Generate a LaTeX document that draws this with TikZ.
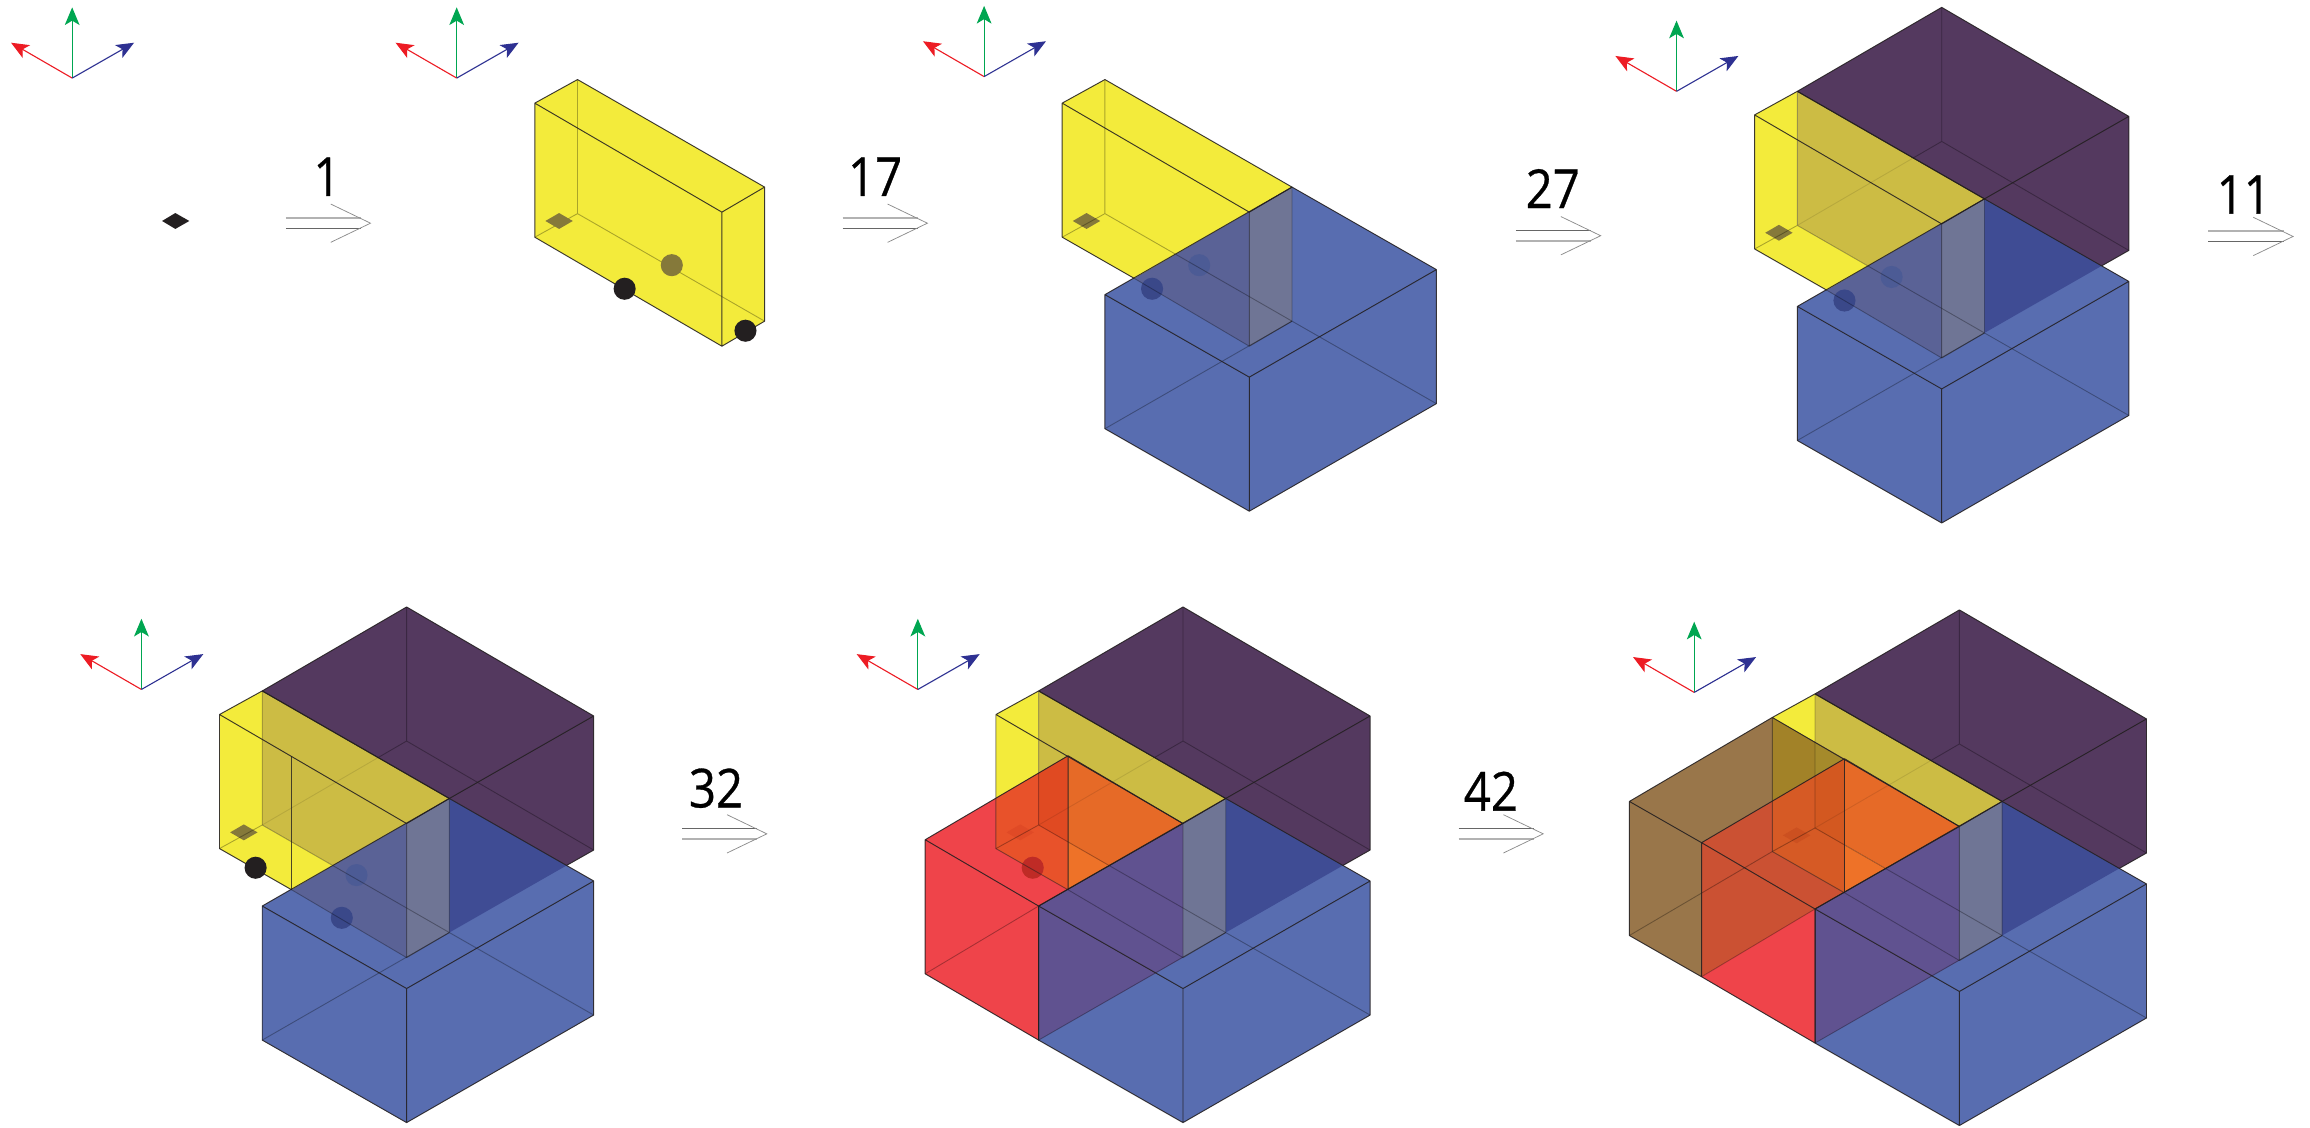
\documentclass[tikz,border=0pt]{standalone}
\usepackage{fontspec}
\usetikzlibrary{arrows.meta}
\newfontfamily\numfont{Open Sans}[FakeStretch=0.88,FakeBold=0.6]
\definecolor{cyel}{HTML}{F3EB3B}
\definecolor{cblu}{HTML}{586DB0}
\definecolor{cpur}{HTML}{54395F}
\definecolor{cdkb}{HTML}{3F4C94}
\definecolor{coli}{HTML}{CCBC44}
\definecolor{cgb}{HTML}{5A6296}
\definecolor{cstr}{HTML}{6F7595}
\definecolor{cred}{HTML}{EF444A}
\definecolor{cvio}{HTML}{605290}
\definecolor{cbrn}{HTML}{99764A}
\definecolor{cink}{HTML}{231F20}
\definecolor{axg}{HTML}{00A651}
\definecolor{axr}{HTML}{ED1C24}
\definecolor{axb}{HTML}{2E3192}
\definecolor{oRa}{HTML}{E8522A}
\definecolor{oRb}{HTML}{EE7228}
\definecolor{oRc}{HTML}{E04A22}
\definecolor{oRd}{HTML}{E66A27}
\definecolor{bRa}{HTML}{D65A25}
\definecolor{bRc}{HTML}{D35820}
\definecolor{bRed}{HTML}{CB5133}
\definecolor{bYa}{HTML}{A28228}
\definecolor{bYb}{HTML}{A58A2B}
\definecolor{cdiaO}{HTML}{85793A}
\definecolor{cdotB}{HTML}{4C5B95}
\definecolor{cdotK}{HTML}{3A4889}
\definecolor{cdotR}{HTML}{BF2B26}
\definecolor{cdiaR}{HTML}{E04A26}
\definecolor{cdiaB}{HTML}{CC5020}
\tikzset{
  vis/.style={draw=cink,draw opacity=0.88,line width=0.65pt,line join=round},
  hid/.style={draw=black,draw opacity=0.3,line width=0.6pt},
  faint/.style={draw=black,draw opacity=0.1,line width=0.6pt},
  axis/.style={line width=0.75pt,-{Stealth[length=12pt,width=10pt,inset=3pt]}},
  shaftA/.style={draw=black!30,line width=1.1pt},
  shaftB/.style={draw=black!60,line width=0.6pt},
  head/.style={draw=black!45,line width=0.5pt},
  num/.style={inner sep=0pt,font=\numfont\fontsize{36.5}{36.5}\selectfont},
  dot/.style={circle,minimum size=15pt,inner sep=0pt,draw=none}
}
\newcommand{\grid}{%
  \coordinate (P) at (0,0);
  \coordinate (L) at (-127,73);
  \coordinate (F) at (-29,129);
  \coordinate (R) at (98,56);
  \coordinate (PB) at (0,91);
  \coordinate (LB) at (-127,164);
  \coordinate (FB) at (-29,220);
  \coordinate (RB) at (98,147);
  \coordinate (Yl) at (-156,-57);
  \coordinate (Yb) at (-127,-73);
  \coordinate (C) at (-29,17);
  \coordinate (CB) at (-29,108);
  \coordinate (YlB) at (-156,34);
  \coordinate (YbB) at (-127,18);
  \coordinate (Pt) at (-29,-130);
  \coordinate (Rt) at (98,-56);
  \coordinate (Rb) at (98,35);
  \coordinate (Pb) at (-29,-39);
  \coordinate (Pc) at (-48.3,-27.8);
  \coordinate (Ib) at (79.5,45.5);
  \coordinate (Q) at (-79,45.5);
  \coordinate (B) at (-107,-29);
  \coordinate (BB) at (-107,62);
  \coordinate (E) at (-107,29.5);
  \coordinate (A) at (-204,28);
  \coordinate (AB) at (-204,119);
  \coordinate (Ao) at (-253,0);
  \coordinate (AoB) at (-253,91);
  \coordinate (T1) at (-156,-0.2);
  \coordinate (T2) at (-127,-17.3);
  \coordinate (T3) at (-127,-40);
}
\newcommand{\bluefill}{\fill[cblu] (L)--(P)--(R)--(RB)--(FB)--(LB)--cycle;}
\newcommand{\bluelines}{%
  \draw[hid] (P)--(PB) (PB)--(LB) (PB)--(RB);
  \draw[vis] (L)--(P)--(R)--(F)--cycle (L)--(LB)--(FB)--(RB)--(R) (F)--(FB);
}
\newcommand{\yelstrip}{\fill[cstr] (C)--(P)--(PB)--(CB)--cycle;}
\newcommand{\yellines}{%
  \draw[hid] (Yb)--(YbB) (YbB)--(YlB) (YbB)--(PB) (BB)--(CB);
  \draw[vis] (Yl)--(Yb)--(P)--(C)--cycle (Yl)--(YlB)--(BB);
  \draw[vis,draw opacity=.5] (C)--(CB) (CB)--(PB);
}
\newcommand{\purfill}{%
  \fill[cpur] (Yb)--(Pt)--(Rt)--(Rb)--(Ib)--(P)--cycle;
  \fill[cdkb] (P)--(Ib)--(PB)--cycle;
}
\newcommand{\purlines}{%
  \draw[hid] (Pt)--(Pb) (Pb)--(Rb) (Pb)--(Pc);
  \draw[faint] (Pc)--(YbB);
  \draw[vis] (Yb)--(Pt)--(Rt)--(Rb)--(Ib) (P)--(Rt) (Yb)--(P);
}
\newcommand{\dia}[1]{\fill[#1] (-148.8,23)--(-139.5,17.6)--(-130.2,23)--(-139.5,28.4)--cycle;}
\newcommand{\axes}[2]{%
  \coordinate (ao) at (#1,#2);
  \coordinate (ag) at (#1,#2-48);
  \coordinate (ar) at (#1-41.5,#2-24);
  \coordinate (ab) at (#1+42,#2-24);
  \draw[axis,axg] (ao)--(ag);
  \draw[axis,axr] (ao)--(ar);
  \draw[axis,axb] (ao)--(ab);
}
\newcommand{\flow}[5]{%
  \coordinate (#5a) at (#1,#2-3.7);
  \coordinate (#5b) at (#1+51,#2-3.7);
  \coordinate (#5c) at (#1,#2+3.7);
  \coordinate (#5d) at (#1+51,#2+3.7);
  \coordinate (#5t) at (#1+57.5,#2);
  \coordinate (#5u) at (#1+30.5,#2-13);
  \coordinate (#5l) at (#1+30.5,#2+13);
  \draw[#3] (#5a)--(#5b);
  \draw[#4] (#5c)--(#5d);
  \draw[head] (#5u)--(#5t)--(#5l);
}
\begin{document}
\begin{tikzpicture}[x=1pt,y=-1pt]
\useasboundingbox (0,0) rectangle (1568,765);
\fill[white] (0,0) rectangle (1568,765);

%% ---------- panel 1
\axes{49}{53}
\coordinate (d1a) at (110,150);\coordinate (d1b) at (119,144.6);\coordinate (d1c) at (128.5,150);\coordinate (d1d) at (119,155.4);
\fill[cink] (d1a)--(d1b)--(d1c)--(d1d)--cycle;
\flow{194}{151.5}{shaftA}{shaftB}{fa}
\node[num] (n1) at (222,120) {1};

%% ---------- panel 2
\axes{310}{53}
\begin{scope}[shift={(519,127)}]
\grid
\fill[cyel] (Yl)--(Yb)--(P)--(PB)--(CB)--(YlB)--cycle;
\draw[hid] (Yb)--(YbB) (YbB)--(YlB) (YbB)--(PB);
\draw[vis] (Yl)--(Yb)--(P)--(C)--cycle (Yl)--(YlB)--(CB)--(PB)--(P) (C)--(CB);
\dia{cdiaO}
\node[dot,fill=cdiaO] (p2b) at (-63,53) {};
\node[dot,fill=cink] (p2a) at (-95,69) {};
\node[dot,fill=cink] (p2c) at (-13,97.5) {};
\end{scope}
\flow{572}{151.5}{shaftA}{shaftB}{fb}
\node[num] (n17) at (594,120) {17};

%% ---------- panel 3
\axes{668}{52}
\begin{scope}[shift={(877,127)}]
\grid
\bluefill
\fill[cyel] (Yl)--(Yb)--(P)--(BB)--(YlB)--cycle;
\fill[cgb] (C)--(BB)--(CB)--cycle;
\yelstrip
\dia{cdiaO}
\node[dot,fill=cdotB] (p3b) at (-63,53) {};
\node[dot,fill=cdotK] (p3a) at (-95,69) {};
\yellines
\bluelines
\end{scope}
\flow{1029}{160}{shaftB}{shaftA}{fc}
\node[num] (n27) at (1054,128) {27};

%% ---------- panel 4
\axes{1138}{62}
\begin{scope}[shift={(1347,135)}]
\grid
\bluefill
\purfill
\fill[cyel] (Yl)--(Yb)--(YbB)--(Q)--(BB)--(YlB)--cycle;
\fill[coli] (Yb)--(P)--(Q)--(YbB)--cycle;
\fill[cgb] (C)--(BB)--(CB)--cycle;
\yelstrip
\dia{cdiaO}
\node[dot,fill=cdotB] (p4b) at (-63,53) {};
\node[dot,fill=cdotK] (p4a) at (-95,69) {};
\yellines
\purlines
\bluelines
\end{scope}
\flow{1499}{160.5}{shaftA}{shaftB}{fd}
\node[num] (n11) at (1523,132) {11};

%% ---------- panel 5
\axes{96}{468}
\begin{scope}[shift={(305,542)}]
\grid
\bluefill
\purfill
\fill[cyel] (Yl)--(Yb)--(YbB)--(Q)--(BB)--(YlB)--cycle;
\fill[coli] (Yb)--(P)--(Q)--(YbB)--cycle;
\fill[cgb] (C)--(BB)--(CB)--cycle;
\yelstrip
\dia{cdiaO}
\node[dot,fill=cdotB] (p5b) at (-63,52) {};
\node[dot,fill=cdotK] (p5a) at (-73,81) {};
\node[dot,fill=cink] (p5c) at (-131.5,47) {};
\yellines
\purlines
\draw[vis,draw opacity=.8] (B)--(BB);
\bluelines
\end{scope}
\flow{463}{566}{shaftB}{shaftA}{fe}
\node[num] (n32) at (486,535) {32};

%% ---------- panel 6
\axes{623}{468}
\begin{scope}[shift={(832,542)}]
\grid
\bluefill
\purfill
\fill[cyel] (Yl)--(Yb)--(T2)--(T1)--cycle;
\fill[coli] (Yb)--(P)--(C)--(B)--(T2)--cycle;
\fill[cred] (A)--(B)--(C)--(L)--(LB)--(AB)--cycle;
\fill[oRa] (T1)--(T2)--(YbB)--(E)--(BB)--(YlB)--cycle;
\fill[oRc] (T2)--(B)--(E)--(YbB)--cycle;
\fill[oRd] (B)--(C)--(Q)--(E)--cycle;
\fill[oRb] (E)--(Q)--(BB)--cycle;
\fill[cvio] (L)--(C)--(CB)--(LB)--cycle;
\yelstrip
\dia{cdiaR}
\node[dot,fill=cdotR] (p6a) at (-131,47) {};
\draw[hid] (Yb)--(YbB) (YbB)--(YlB) (YbB)--(PB) (BB)--(CB);
\draw[vis,draw opacity=.5] (Yl)--(YlB)--(BB) (C)--(CB) (CB)--(PB);
\draw[vis] (Yl)--(Yb)--(P)--(C)--(Yl);
\purlines
\draw[hid] (AB)--(L);
\draw[vis] (A)--(B)--(C)--(L)--cycle (A)--(AB)--(LB)--(L) (B)--(BB);
\bluelines
\end{scope}
\flow{990}{566}{shaftB}{shaftA}{ff}
\node[num] (n42) at (1012,537) {42};

%% ---------- panel 7
\axes{1150}{470}
\begin{scope}[shift={(1359,544)}]
\grid
\bluefill
\purfill
\fill[cyel] (Yl)--(Yb)--(T3)--cycle;
\fill[coli] (Yb)--(P)--(C)--(B)--(T3)--cycle;
\fill[cbrn] (Ao)--(Yl)--(B)--(BB)--(AB)--(AoB)--cycle;
\fill[bYa] (Yl)--(T3)--(T2)--(T1)--cycle;
\fill[bYb] (T3)--(B)--(T2)--cycle;
\fill[bRed] (A)--(B)--(BB)--(AB)--cycle;
\fill[cred] (AB)--(L)--(LB)--cycle;
\fill[bRa] (T1)--(T2)--(YbB)--(E)--(BB)--(YlB)--cycle;
\fill[bRc] (T2)--(B)--(E)--(YbB)--cycle;
\fill[oRd] (B)--(C)--(Q)--(E)--cycle;
\fill[oRb] (E)--(Q)--(BB)--cycle;
\fill[cvio] (L)--(C)--(CB)--(LB)--cycle;
\yelstrip
\dia{cdiaB}
\draw[hid] (Yb)--(YbB) (YbB)--(YlB) (YbB)--(PB) (BB)--(CB) (YlB)--(AoB);
\draw[vis,draw opacity=.5] (Yl)--(YlB) (YlB)--(BB) (C)--(CB) (CB)--(PB);
\draw[vis] (Yl)--(Yb)--(P)--(C)--(Yl);
\purlines
\draw[vis] (Ao)--(Yl) (Ao)--(A) (Ao)--(AoB)--(AB);
\draw[hid] (AB)--(L);
\draw[vis] (A)--(B)--(C)--(L)--cycle (A)--(AB)--(LB)--(L) (B)--(BB);
\bluelines
\end{scope}
\end{tikzpicture}
\end{document}
